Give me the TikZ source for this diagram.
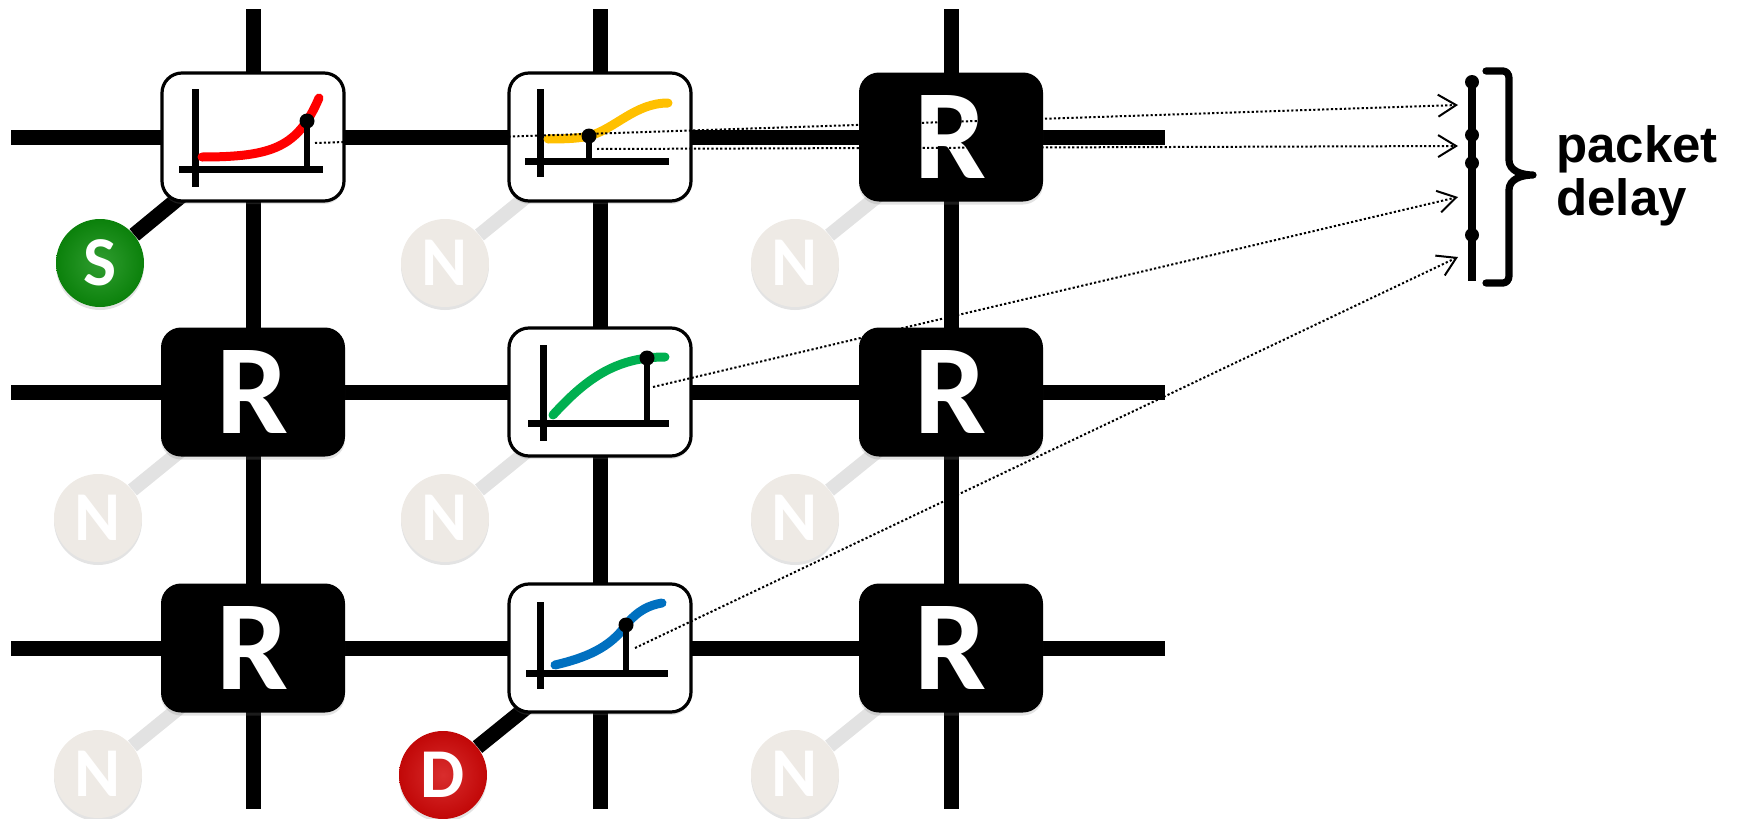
\documentclass[tikz,border=0pt]{standalone}
\usepackage{fontspec}
\setmainfont{Liberation Sans}
\newfontfamily\carlito{Carlito}
\usetikzlibrary{arrows.meta,shadows}

\definecolor{nfill}{RGB}{238,234,229}
\definecolor{nlink}{RGB}{226,226,226}
\definecolor{sgreen}{RGB}{12,140,12}
\definecolor{dred}{RGB}{210,8,8}
\definecolor{cred}{RGB}{255,0,0}
\definecolor{cyellow}{RGB}{255,192,0}
\definecolor{cgreen}{RGB}{0,176,80}
\definecolor{cblue}{RGB}{0,112,192}

\begin{document}
\begin{tikzpicture}[x=0.5pt,y=-0.5pt,
  wire/.style={line width=7.5pt},
  softshadow/.style={drop shadow={shadow xshift=0pt,shadow yshift=-1.5pt,opacity=0.22}},
  plotbox/.style={draw,fill=white,line width=1.6pt,rounded corners=10pt,
    minimum width=91pt,minimum height=64pt,softshadow},
  router/.style={fill=black,rounded corners=10pt,minimum width=92pt,minimum height=64.5pt,
    inner sep=0pt,text=white,font=\carlito\bfseries\fontsize{64}{64}\selectfont,softshadow},
  endpoint/.style={circle,minimum size=44pt,inner sep=0pt,text=white,
    font=\carlito\bfseries\fontsize{35}{35}\selectfont,softshadow},
  idle/.style={endpoint,fill=nfill},
  source/.style={endpoint,inner color=sgreen!85!white,outer color=sgreen!92!black},
  sink/.style={endpoint,inner color=dred!85!white,outer color=dred!92!black},
  idlelink/.style={line width=7pt,nlink},
  activelink/.style={line width=7.5pt},
  axis/.style={line width=3.5pt},
  stem/.style={line width=3.3pt},
  curve/.style={line width=4.5pt,line cap=round},
  probedot/.style={circle,fill=black,inner sep=0pt,minimum size=7.5pt},
  tickdot/.style={circle,fill=black,inner sep=0pt,minimum size=7pt},
  probe/.style={line width=1pt,dash pattern=on 1.1pt off 1.1pt,
    -{Straight Barb[length=9pt,width=11pt,line width=1pt]}},
]
\useasboundingbox (0,0) rectangle (1742,819);

% mesh wires
\foreach \y/\n in {137/1,392/2,648/3}{
  \coordinate (hw\n) at (11,\y); \coordinate (he\n) at (1165,\y);
  \draw[wire] (hw\n) -- (he\n);}
\foreach \x/\n in {253/1,600/2,951/3}{
  \coordinate (vn\n) at (\x,9); \coordinate (vs\n) at (\x,809);
  \draw[wire] (vn\n) -- (vs\n);}

% router positions
\coordinate (c11) at (253,137); \coordinate (c12) at (600,137); \coordinate (c13) at (951,137);
\coordinate (c21) at (253,392); \coordinate (c22) at (600,392); \coordinate (c23) at (951,392);
\coordinate (c31) at (253,648); \coordinate (c32) at (600,648); \coordinate (c33) at (951,648);

% end nodes and their links
\node[idle]   (n12) at (445,263) {N};
\node[idle]   (n13) at (795,263) {N};
\node[idle]   (n21) at (98,518)  {N};
\node[idle]   (n22) at (445,518) {N};
\node[idle]   (n23) at (795,518) {N};
\node[idle]   (n31) at (98,774)  {N};
\node[idle]   (n33) at (795,774) {N};
\node[source] (src) at (100,263) {S};
\node[sink]   (dst) at (443,775) {D};

\draw[idlelink] (n12) -- (c12);
\draw[idlelink] (n13) -- (c13);
\draw[idlelink] (n21) -- (c21);
\draw[idlelink] (n22) -- (c22);
\draw[idlelink] (n23) -- (c23);
\draw[idlelink] (n31) -- (c31);
\draw[idlelink] (n33) -- (c33);
\draw[activelink] (src) -- (c11);
\draw[activelink] (dst) -- (c32);

% routers
\node[plotbox] (b11) at (c11) {};
\node[plotbox] (b12) at (c12) {};
\node[router]  (r13) at (c13) {R};
\node[router]  (r21) at (c21) {R};
\node[plotbox] (b22) at (c22) {};
\node[router]  (r23) at (c23) {R};
\node[router]  (r31) at (c31) {R};
\node[plotbox] (b32) at (c32) {};
\node[router]  (r33) at (c33) {R};

% delay curves inside the monitored routers
\begin{scope}[shift={(b11.center)}]
  \draw[axis] (-58,-48) -- (-58,50);
  \draw[axis] (-74,32) -- (70,32);
  \draw[curve,cred] (-51,20) .. controls (20,20) and (45,10) .. (66,-39);
  \draw[stem] (54,-16) -- (54,32);
  \node[probedot] (m1) at (54,-16) {};
  \coordinate (p1) at (62,6);
\end{scope}
\begin{scope}[shift={(b12.center)}]
  \draw[axis] (-60,-48) -- (-60,40);
  \draw[axis] (-75,24) -- (69,24);
  \draw[curve,cyellow] (-52,2) .. controls (-30,2) and (-20,1) .. (-11,-1)
     .. controls (15,-8) and (35,-34) .. (68,-34);
  \draw[stem] (-11,-1) -- (-11,24);
  \node[probedot] (m2) at (-11,-1) {};
  \coordinate (p2) at (-3,12);
\end{scope}
\begin{scope}[shift={(b22.center)}]
  \draw[axis] (-57,-47) -- (-57,49);
  \draw[axis] (-72,31) -- (69,31);
  \draw[curve,cgreen] (-47,23) .. controls (-15,-12) and (15,-35) .. (65,-35);
  \draw[stem] (47,-34) -- (47,31);
  \node[probedot] (m3) at (47,-34) {};
  \coordinate (p3) at (53,-5);
\end{scope}
\begin{scope}[shift={(b32.center)}]
  \draw[axis] (-60,-46) -- (-60,41);
  \draw[axis] (-74,25) -- (68,25);
  \draw[curve,cblue] (-45,17) .. controls (-15,10) and (10,0) .. (26,-23)
     .. controls (38,-38) and (50,-43) .. (62,-45);
  \draw[stem] (26,-23) -- (26,25);
  \node[probedot] (m4) at (26,-23) {};
  \coordinate (p4) at (35,0);
\end{scope}

% packet delay scale
\coordinate (axtop) at (1472,82);
\coordinate (axbot) at (1472,281);
\draw[line width=4pt] (axtop) -- (axbot);
\node[tickdot] (t1) at (1472,82) {};
\node[tickdot] (t2) at (1472,135) {};
\node[tickdot] (t3) at (1472,163) {};
\node[tickdot] (t4) at (1472,235) {};
\draw[line width=3.6pt,line join=round,line cap=round]
  (1486,71) -- (1503,71) to[out=0,in=90] (1509,78) -- (1509,160)
  to[out=-90,in=180] (1533,175) to[out=180,in=90] (1509,190)
  -- (1509,276) to[out=-90,in=0] (1503,283) -- (1486,283);
\node[anchor=base west,inner sep=0pt,font=\bfseries\fontsize{25.5}{26.5}\selectfont]
  (lblA) at (1556,162) {packet};
\node[anchor=base west,inner sep=0pt,font=\bfseries\fontsize{25.5}{26.5}\selectfont]
  (lblB) at (1556,215) {delay};

% probes from each monitored router to the delay scale
\coordinate (q1) at (1458,105);
\coordinate (q2) at (1458,146);
\coordinate (q3) at (1458,197);
\coordinate (q4) at (1458,257);
\draw[probe] (p1) -- (q1);
\draw[probe] (p2) -- (q2);
\draw[probe] (p3) -- (q3);
\draw[probe] (p4) -- (q4);
\end{tikzpicture}
\end{document}
